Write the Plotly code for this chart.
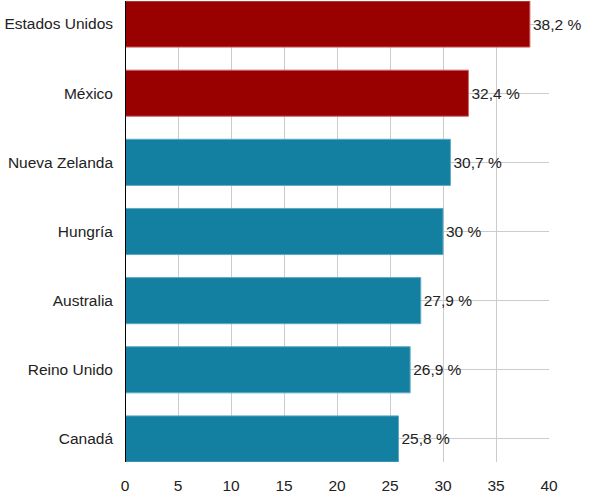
import plotly.graph_objects as go

countries = ["Estados Unidos", "México", "Nueva Zelanda", "Hungría", "Australia", "Reino Unido", "Canadá"]
values = [38.2, 32.4, 30.7, 30.0, 27.9, 26.9, 25.8]
highlight = [True, True, False, False, False, False, False]
x_ticks = [0, 5, 10, 15, 20, 25, 30, 35, 40]

def fmt(v):
    s = ("%g" % v).replace(".", ",")
    return s + " %"

labels = [fmt(v) for v in values]
fill = ["#990000" if h else "#1380A1" for h in highlight]
edge = ["#d06868" if h else "#5ea8c4" for h in highlight]

FONT = "Liberation Sans, Arial"
FS = 15.5
bar_w = 0.667
fig = go.Figure(go.Bar(
    x=values, y=countries, orientation="h",
    marker=dict(color=fill, line=dict(color=edge, width=1)),
    width=bar_w,
    text=labels, textposition="outside",
    textfont=dict(family=FONT, size=FS, color="#222222"),
    cliponaxis=False,
    hoverinfo="skip",
))

fig.update_layout(
    width=592, height=494,
    margin=dict(l=125, r=43, t=1, b=32),
    plot_bgcolor="white", paper_bgcolor="white",
    showlegend=False,
    font=dict(family=FONT, size=FS, color="#222222"),
)
fig.update_xaxes(
    range=[0, 40], tickvals=x_ticks, ticktext=[str(t) for t in x_ticks],
    showgrid=True, gridcolor="#cccccc", gridwidth=1,
    zeroline=False, showline=False, ticks="", ticklen=0,
    tickfont=dict(family=FONT, size=FS, color="#222222"),
    automargin=False, ticklabelstandoff=12,
)
fig.update_yaxes(
    type="category", categoryorder="array", categoryarray=countries,
    range=[len(countries) - 1 + bar_w / 2, -bar_w / 2],
    showgrid=True, gridcolor="#cccccc", gridwidth=1,
    zeroline=False, showline=False, ticks="", ticklen=0,
    tickfont=dict(family=FONT, size=FS, color="#222222"),
    automargin=False, ticklabelstandoff=11,
)
fig.add_shape(type="line", xref="x", yref="paper", x0=0, x1=0, y0=0, y1=1,
              line=dict(color="black", width=2), layer="above")

fig.write_html("out.html",
               config={"displayModeBar": False},
               post_script="document.body.style.margin='0';document.body.style.padding='0';")
